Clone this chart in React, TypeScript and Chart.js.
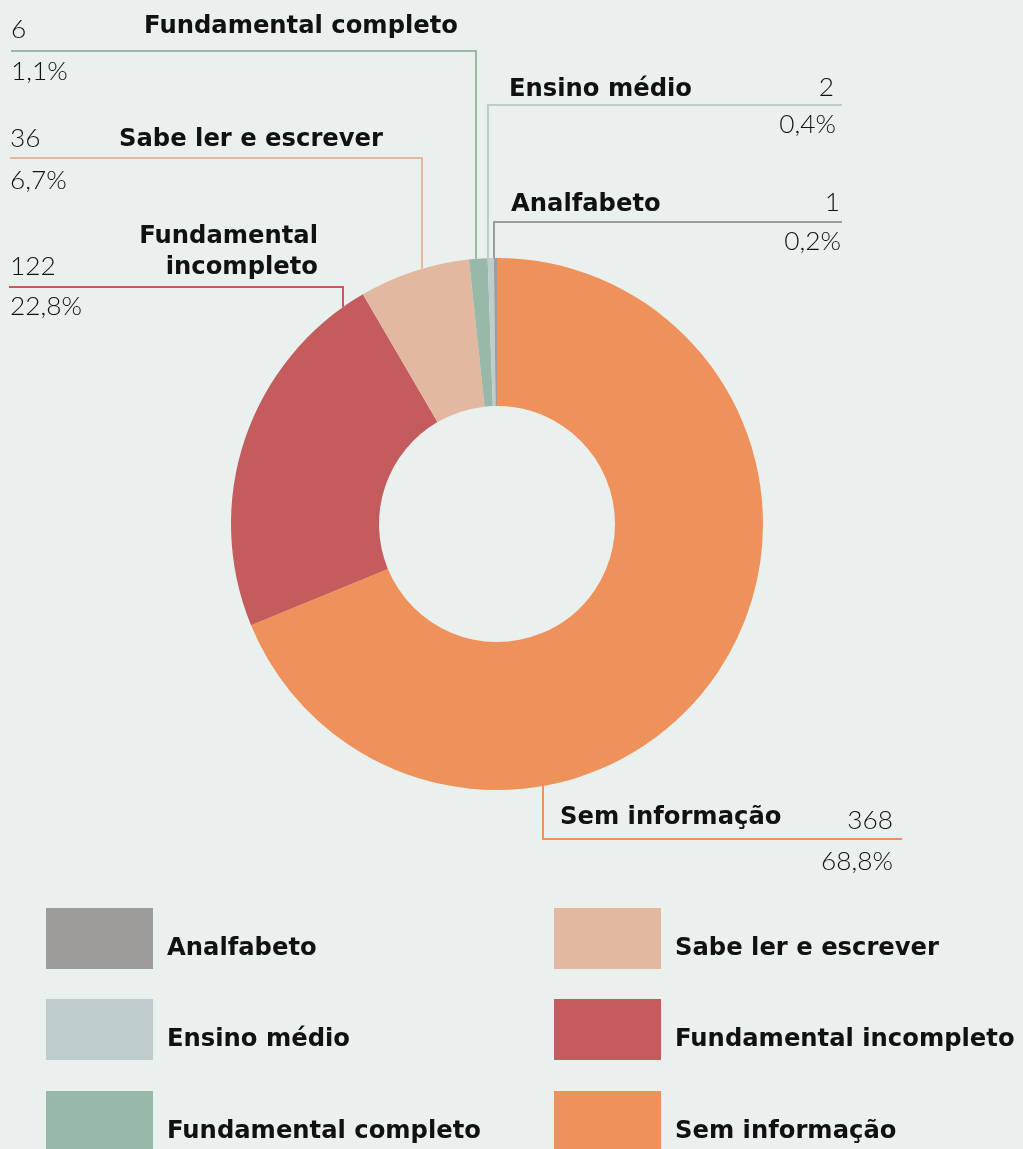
import React, { useEffect, useRef } from 'react';
import { Chart, registerables } from 'chart.js';

Chart.register(...registerables);

// ---- data ----
const categories = [
  'Sem informação',
  'Fundamental incompleto',
  'Sabe ler e escrever',
  'Fundamental completo',
  'Ensino médio',
  'Analfabeto',
];
const counts = [368, 122, 36, 6, 2, 1];
const sliceColors = ['#EF915B', '#C45C5D', '#E2B8A1', '#98B8A8', '#BDCDCB', '#9D9C9A'];
const legendOrder = [
  'Analfabeto',
  'Ensino médio',
  'Fundamental completo',
  'Sabe ler e escrever',
  'Fundamental incompleto',
  'Sem informação',
];

// ---- layout ----
const W = 1023;
const H = 1149;
const BG = '#EAF0ED';
const TEXT = '#111111';
const FONT = '"DejaVu Sans", sans-serif';
const NUM_FONT = 'Lato, "DejaVu Sans", sans-serif';

type Callout = {
  cat: string;
  anchorX: number;
  elbowY: number;
  endX: number;
  below?: boolean;
  nameLines: string[];
  nameX: number;
  nameAlign: CanvasTextAlign;
  nameBaselines: number[];
  numX: number;
  numAlign: CanvasTextAlign;
  numBaseline: number;
  pctX: number;
  pctAlign: CanvasTextAlign;
  pctBaseline: number;
};

const callouts: Callout[] = [
  { cat: 'Fundamental completo', anchorX: 476, elbowY: 51, endX: 11, nameLines: ['Fundamental completo'], nameX: 458, nameAlign: 'right', nameBaselines: [33], numX: 11, numAlign: 'left', numBaseline: 38, pctX: 11, pctAlign: 'left', pctBaseline: 80 },
  { cat: 'Sabe ler e escrever', anchorX: 422, elbowY: 158, endX: 10, nameLines: ['Sabe ler e escrever'], nameX: 383, nameAlign: 'right', nameBaselines: [146], numX: 10, numAlign: 'left', numBaseline: 147, pctX: 10, pctAlign: 'left', pctBaseline: 189 },
  { cat: 'Fundamental incompleto', anchorX: 343, elbowY: 287, endX: 9, nameLines: ['Fundamental', 'incompleto'], nameX: 318, nameAlign: 'right', nameBaselines: [243, 274], numX: 10, numAlign: 'left', numBaseline: 275, pctX: 10, pctAlign: 'left', pctBaseline: 315 },
  { cat: 'Ensino médio', anchorX: 488, elbowY: 105, endX: 842, nameLines: ['Ensino médio'], nameX: 509, nameAlign: 'left', nameBaselines: [96], numX: 834, numAlign: 'right', numBaseline: 96, pctX: 836, pctAlign: 'right', pctBaseline: 133 },
  { cat: 'Analfabeto', anchorX: 494, elbowY: 222, endX: 842, nameLines: ['Analfabeto'], nameX: 511, nameAlign: 'left', nameBaselines: [211], numX: 840, numAlign: 'right', numBaseline: 211, pctX: 841, pctAlign: 'right', pctBaseline: 250 },
  { cat: 'Sem informação', anchorX: 543, elbowY: 839, endX: 902, below: true, nameLines: ['Sem informação'], nameX: 560, nameAlign: 'left', nameBaselines: [824], numX: 893, numAlign: 'right', numBaseline: 829, pctX: 893, pctAlign: 'right', pctBaseline: 870 },
];

const legendCols = [46, 554];
const legendRows = [908, 999, 1091];
const swatchW = 107;
const swatchH = 61;
const legendTextGap = 14;
const legendBaselineOffset = 47;

const fmtPct = (v: number, total: number) => ((v / total) * 100).toFixed(1).replace('.', ',') + '%';

const annotate = {
  id: 'annotate',
  afterDatasetsDraw(chart: any) {
    const ctx: CanvasRenderingContext2D = chart.ctx;
    const meta = chart.getDatasetMeta(0);
    const arc0 = meta.data[0] as any;
    const cx = arc0.x;
    const cy = arc0.y;
    const R = arc0.outerRadius;
    const total = counts.reduce((a, b) => a + b, 0);

    ctx.save();
    ctx.font = `bold 100px ${FONT}`;
    const boldSize = (100 * 314) / ctx.measureText('Fundamental completo').width;
    ctx.font = `300 100px ${NUM_FONT}`;
    const regSize = (100 * 72) / ctx.measureText('22,8%').width;
    const boldFont = `bold ${boldSize.toFixed(2)}px ${FONT}`;
    const regFont = `300 ${regSize.toFixed(2)}px ${NUM_FONT}`;

    callouts.forEach((c) => {
      const i = categories.indexOf(c.cat);
      const color = sliceColors[i];
      const dx = c.anchorX - cx;
      const dy = Math.sqrt(Math.max(R * R - dx * dx, 0));
      const ay = c.below ? cy + dy : cy - dy;
      ctx.strokeStyle = color;
      ctx.lineWidth = 2;
      ctx.beginPath();
      ctx.moveTo(c.anchorX, ay);
      ctx.lineTo(c.anchorX, c.elbowY);
      ctx.lineTo(c.endX, c.elbowY);
      ctx.stroke();

      ctx.fillStyle = TEXT;
      ctx.textBaseline = 'alphabetic';
      ctx.font = boldFont;
      ctx.textAlign = c.nameAlign;
      c.nameLines.forEach((ln, k) => ctx.fillText(ln, c.nameX, c.nameBaselines[k]));
      ctx.font = regFont;
      ctx.textAlign = c.numAlign;
      ctx.fillText(String(counts[i]), c.numX, c.numBaseline);
      ctx.textAlign = c.pctAlign;
      ctx.fillText(fmtPct(counts[i], total), c.pctX, c.pctBaseline);
    });

    legendOrder.forEach((name, k) => {
      const i = categories.indexOf(name);
      const col = Math.floor(k / 3);
      const row = k % 3;
      const x = legendCols[col];
      const y = legendRows[row];
      ctx.fillStyle = sliceColors[i];
      ctx.fillRect(x, y, swatchW, swatchH);
      ctx.fillStyle = TEXT;
      ctx.font = boldFont;
      ctx.textAlign = 'left';
      ctx.fillText(name, x + swatchW + legendTextGap, y + legendBaselineOffset);
    });
    ctx.restore();
  },
};

export default function App() {
  const ref = useRef<HTMLCanvasElement>(null);
  useEffect(() => {
    document.body.style.margin = '0';
    const chart = new Chart(ref.current as HTMLCanvasElement, {
      type: 'doughnut',
      data: {
        labels: categories,
        datasets: [
          {
            data: counts,
            backgroundColor: sliceColors,
            borderWidth: 0,
            hoverOffset: 0,
            radius: 266,
            cutout: 118,
          } as any,
        ],
      },
      options: {
        responsive: false,
        animation: false,
        events: [],
        layout: { padding: { left: 231, right: 260, top: 258, bottom: 359 } },
        plugins: { legend: { display: false }, tooltip: { enabled: false } },
      },
      plugins: [annotate],
    });
    return () => chart.destroy();
  }, []);
  return (
    <div style={{ width: W, height: H, background: BG, position: 'relative' }}>
      <canvas ref={ref} width={W} height={H} style={{ display: 'block', width: W, height: H }} />
    </div>
  );
}
